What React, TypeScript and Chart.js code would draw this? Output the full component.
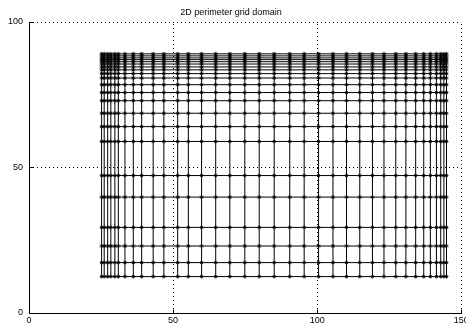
import React, { useEffect, useRef } from "react";
import { Chart, registerables } from "chart.js";

Chart.register(...registerables);

const titleText = "2D perimeter grid domain";
const xTicks = [0, 50, 100, 150];
const yTicks = [0, 50, 100];
const xColumns = [
  25.2, 26.1, 27.3, 28.4, 29.8, 31.0, 33.3, 36.2, 39.1, 43.1, 46.8, 51.6,
  55.3, 59.9, 64.8, 69.7, 74.9, 79.9, 85.1, 90.5, 95.5, 100.5, 105.5, 110.2,
  114.8, 119.2, 123.2, 127.3, 130.8, 134.2, 137.0, 139.3, 141.4, 142.9, 144.0, 144.9,
];
const yRows = [
  12.5, 17.3, 23.0, 29.4, 39.8, 47.2, 58.9, 64.0, 68.6, 72.9, 75.7, 78.4,
  80.7, 82.2, 83.5, 84.5, 85.5, 86.3, 87.0, 87.6, 88.3, 89.0,
];

const FONT = "'Liberation Sans', Arial, sans-serif";

const framePlugin = {
  id: "matlabFrame",
  beforeDatasetsDraw(chart: any) {
    const { ctx, chartArea, scales } = chart;
    const xs = scales.x;
    const ys = scales.y;
    ctx.save();
    ctx.strokeStyle = "#000";
    ctx.lineWidth = 1;
    ctx.setLineDash([1, 3]);
    xTicks.forEach((v) => {
      if (v === 0) return;
      const px = Math.round(xs.getPixelForValue(v)) + 0.5;
      ctx.beginPath();
      ctx.moveTo(px, chartArea.bottom);
      ctx.lineTo(px, chartArea.top);
      ctx.stroke();
    });
    yTicks.forEach((v) => {
      if (v === 0) return;
      const py = Math.round(ys.getPixelForValue(v)) + 0.5;
      ctx.beginPath();
      ctx.moveTo(chartArea.left, py);
      ctx.lineTo(chartArea.right, py);
      ctx.stroke();
    });
    ctx.restore();
  },
  afterDatasetsDraw(chart: any) {
    const { ctx, chartArea, scales } = chart;
    const xs = scales.x;
    const ys = scales.y;
    const left = Math.round(chartArea.left) + 0.5;
    const bottom = Math.round(chartArea.bottom) + 0.5;
    ctx.save();
    ctx.strokeStyle = "#000";
    ctx.lineWidth = 1;
    ctx.setLineDash([]);
    ctx.beginPath();
    ctx.moveTo(left, Math.round(chartArea.top));
    ctx.lineTo(left, bottom);
    ctx.lineTo(Math.round(chartArea.right) + 1, bottom);
    ctx.stroke();
    xTicks.forEach((v) => {
      const px = Math.round(xs.getPixelForValue(v)) + 0.5;
      ctx.beginPath();
      ctx.moveTo(px, bottom);
      ctx.lineTo(px, bottom - 4);
      ctx.stroke();
    });
    yTicks.forEach((v) => {
      const py = Math.round(ys.getPixelForValue(v)) + 0.5;
      ctx.beginPath();
      ctx.moveTo(left, py);
      ctx.lineTo(left + 4, py);
      ctx.stroke();
    });
    ctx.restore();
  },
};

export default function App() {
  const canvasRef = useRef<HTMLCanvasElement | null>(null);

  useEffect(() => {
    if (!canvasRef.current) return;
    const rowSets = yRows.map((y) => ({
      data: xColumns.map((x) => ({ x, y })),
      showLine: true,
      borderColor: "#000",
      borderWidth: 1,
      pointStyle: "star",
      pointRadius: 2,
      pointBorderColor: "#000",
      pointBackgroundColor: "#000",
      pointBorderWidth: 0.8,
      order: 1,
    }));
    const colSets = xColumns.map((x) => ({
      data: yRows.map((y) => ({ x, y })),
      showLine: true,
      borderColor: "#000",
      borderWidth: 1,
      pointRadius: 0,
      order: 2,
    }));
    const chart = new Chart(canvasRef.current, {
      type: "scatter",
      data: { datasets: [...colSets, ...rowSets] as any },
      plugins: [framePlugin],
      options: {
        responsive: false,
        animation: false,
        layout: { padding: { top: 1, right: 4, bottom: 0, left: 0 } },
        plugins: {
          legend: { display: false },
          tooltip: { enabled: false },
          title: {
            display: true,
            text: titleText,
            color: "#000",
            font: { family: FONT, size: 9, weight: "normal" },
            padding: { top: 6, bottom: 4 },
          },
        },
        scales: {
          x: {
            type: "linear",
            min: 0,
            max: 150,
            afterBuildTicks: (s: any) => {
              s.ticks = xTicks.map((v) => ({ value: v }));
            },
            ticks: {
              color: "#000",
              font: { family: FONT, size: 9 },
              padding: 2,
              maxRotation: 0,
              autoSkip: false,
            },
            grid: { display: false, drawTicks: false },
            border: { display: false },
            afterFit: (s: any) => {
              s.height = 12;
              s.paddingLeft = 0;
              s.paddingRight = 0;
            },
          },
          y: {
            type: "linear",
            min: 0,
            max: 100,
            afterBuildTicks: (s: any) => {
              s.ticks = yTicks.map((v) => ({ value: v }));
            },
            ticks: {
              color: "#000",
              font: { family: FONT, size: 9 },
              padding: 6,
              autoSkip: false,
            },
            grid: { display: false, drawTicks: false },
            border: { display: false },
            afterFit: (s: any) => {
              s.width = 29;
              s.paddingTop = 0;
              s.paddingBottom = 0;
            },
          },
        },
      } as any,
    });
    return () => chart.destroy();
  }, []);

  return (
    <div style={{ position: "absolute", left: 0, top: 0, width: 466, height: 325, background: "#fff" }}>
      <canvas ref={canvasRef} width={466} height={325} style={{ display: "block", width: 466, height: 325 }} />
    </div>
  );
}
